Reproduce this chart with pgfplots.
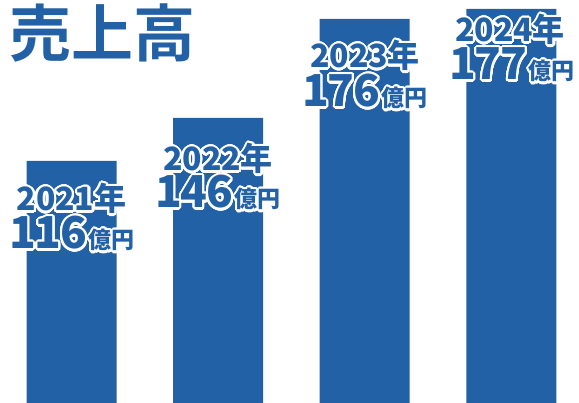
\documentclass[border=0pt]{standalone}
\usepackage{pgfplots}
\pgfplotsset{compat=1.18}
\usepackage{fontspec}
\usepackage{contour}
\newfontfamily\jp{Noto Sans CJK JP}[UprightFont={* Bold}]
\newfontfamily\jpk{Noto Sans CJK JP}[UprightFont={* Black}]
\definecolor{barblue}{RGB}{35,97,166}
\contourlength{2.1bp}
\contournumber{32}
\newcommand\dg[1]{\contour{white}{#1}}
\newcommand\yearlab[1]{{\color{barblue}\jpk\fontsize{32bp}{32bp}\selectfont\contour{white}{#1年}}}
\newcommand\numlab[3]{{\color{barblue}\jpk{\fontsize{44bp}{44bp}\selectfont\dg{#1}\kern-1bp\dg{#2}\kern-1bp\dg{#3}}\kern1.5bp{\fontsize{23bp}{23bp}\selectfont\contour{white}{億円}}}}
\begin{document}
\begin{tikzpicture}
\begin{axis}[width=579bp,height=403bp,scale only axis,
  xmin=0,xmax=579,ymin=0,ymax=403,hide axis,clip=false,
  ybar,bar width=90]
\addplot[fill=barblue,draw=none] coordinates {(71.5,242) (218,285) (364.5,384) (511.3,394)};
\node[anchor=base west,inner sep=0] at (axis cs:9,346) {\color{barblue}\jp\fontsize{62bp}{62bp}\selectfont 売上高};
\node[anchor=base,inner sep=0] at (axis cs:71.5,192) {\yearlab{2021}};
\node[anchor=base,inner sep=0] at (axis cs:72,154) {\numlab{1}{1}{6}};
\node[anchor=base,inner sep=0] at (axis cs:218,232) {\yearlab{2022}};
\node[anchor=base,inner sep=0] at (axis cs:218,195) {\numlab{1}{4}{6}};
\node[anchor=base,inner sep=0] at (axis cs:365,335) {\yearlab{2023}};
\node[anchor=base,inner sep=0] at (axis cs:365,296) {\numlab{1}{7}{6}};
\node[anchor=base,inner sep=0] at (axis cs:510,361) {\yearlab{2024}};
\node[anchor=base,inner sep=0] at (axis cs:512,323) {\numlab{1}{7}{7}};
\end{axis}
\pgfresetboundingbox
\path (0,0) rectangle (579bp,403bp);
\end{tikzpicture}
\end{document}
